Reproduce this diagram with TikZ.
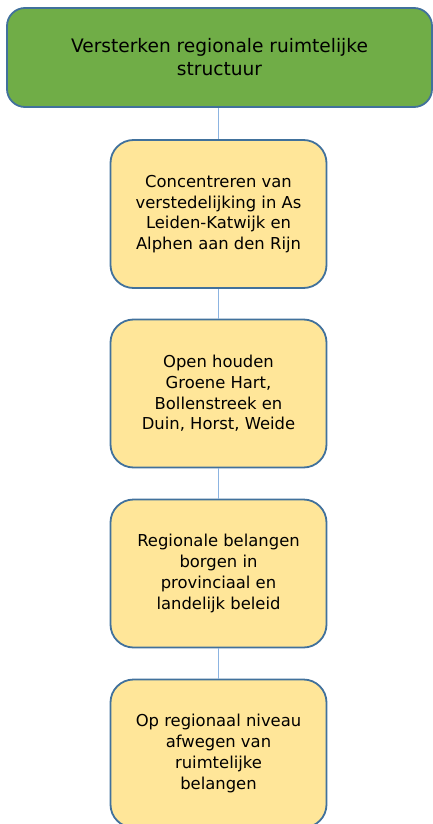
\documentclass[tikz,border=0pt]{standalone}
\usepackage{fontspec}
\setmainfont{DejaVu Sans}
\definecolor{edgeblue}{RGB}{65,113,156}
\definecolor{topgreen}{RGB}{112,173,71}
\definecolor{boxyellow}{RGB}{255,230,153}
\definecolor{linkblue}{RGB}{140,180,225}
\begin{document}
\begin{tikzpicture}[x=1pt,y=-1pt,
  topbox/.style={draw=edgeblue,line width=1.8pt,fill=topgreen,rounded corners=18pt,
    minimum width=425pt,minimum height=99pt,inner sep=0pt,align=center,
    font=\fontsize{18.6}{23}\selectfont},
  stepbox/.style={draw=edgeblue,line width=1.8pt,fill=boxyellow,rounded corners=23pt,
    minimum width=216pt,minimum height=148pt,inner sep=0pt,align=center,
    font=\fontsize{16.4}{20.7}\selectfont},
  link/.style={draw=linkblue,line width=1.3pt}]
\useasboundingbox (0,0) rectangle (433,824);
\node[topbox] (top) at (219.5,57.5) {Versterken regionale ruimtelijke\\structuur};
\node[stepbox] (b1) at (218.5,214) {Concentreren van\\verstedelijking in As\\Leiden-Katwijk en\\Alphen aan den Rijn};
\node[stepbox] (b2) at (218.5,393.5) {Open houden\\Groene Hart,\\Bollenstreek en\\Duin, Horst, Weide};
\node[stepbox] (b3) at (218.5,573.5) {Regionale belangen\\borgen in\\provinciaal en\\landelijk beleid};
\node[stepbox] (b4) at (218.5,753.5) {Op regionaal niveau\\afwegen van\\ruimtelijke\\belangen};
\draw[link] (b1.north |- top.south) -- (b1.north);
\draw[link] (b1.south) -- (b2.north);
\draw[link] (b2.south) -- (b3.north);
\draw[link] (b3.south) -- (b4.north);
\end{tikzpicture}
\end{document}
